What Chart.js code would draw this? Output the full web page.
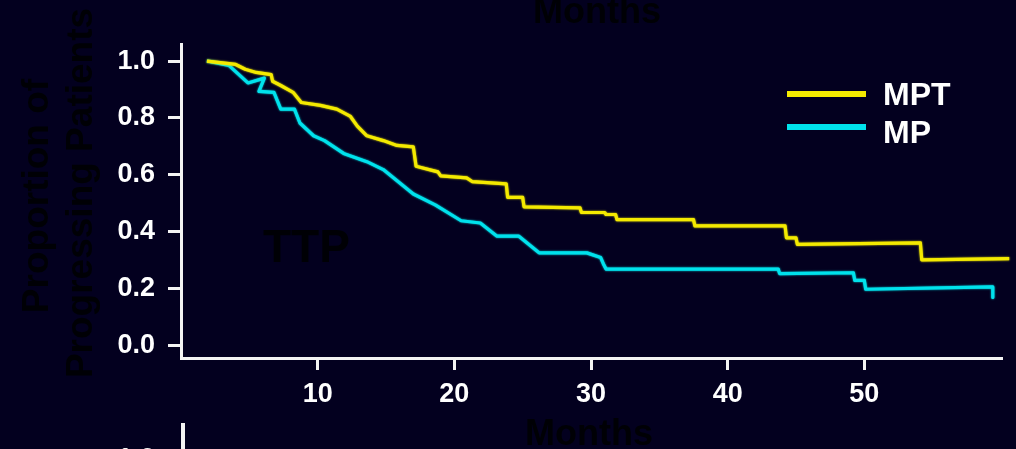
<!DOCTYPE html>
<html>
<head>
<meta charset="utf-8">
<script src="https://cdn.jsdelivr.net/npm/chart.js@4/dist/chart.umd.min.js"></script>
<style>
  html, body { margin: 0; padding: 0; background: #03001f; overflow: hidden; }
  #wrap { width: 1016px; height: 449px; }
</style>
</head>
<body>
<div id="wrap"><canvas id="ttp" width="1016" height="449"></canvas></div>
<script>
// Time to progression, Kaplan-Meier estimates by arm
const seriesNames = ['MPT', 'MP'];

const mptMonths = [1.9, 4.0, 4.7, 5.5, 6.6, 6.7, 7.3, 8.2, 8.8, 10.2, 11.4, 12.4, 12.9, 13.6, 14.8, 15.8,
  17.0, 17.2, 18.8, 19.0, 20.9, 21.3, 23.8, 23.9, 25.0, 25.1, 29.2, 29.3, 31.0, 31.1, 31.8, 31.9,
  37.5, 37.6, 44.2, 44.3, 45.0, 45.1, 54.1, 54.2, 60.6];
const mptValues = [1.00, 0.988, 0.971, 0.960, 0.952, 0.929, 0.914, 0.890, 0.854, 0.844, 0.831, 0.805, 0.771, 0.737, 0.720, 0.703,
  0.698, 0.630, 0.610, 0.596, 0.589, 0.576, 0.568, 0.520, 0.520, 0.487, 0.483, 0.467, 0.467, 0.460, 0.460, 0.442,
  0.442, 0.420, 0.420, 0.378, 0.378, 0.355, 0.360, 0.300, 0.305];

const mpMonths = [1.9, 3.5, 4.9, 6.1, 5.7, 6.8, 7.3, 8.3, 8.7, 9.7, 10.5, 11.9, 13.6, 14.8, 17.0, 18.6,
  20.5, 21.9, 23.1, 24.7, 26.2, 29.7, 30.7, 30.9, 31.1, 43.7, 43.8, 49.2, 49.3, 50.0, 50.1, 59.4, 59.4];
const mpValues = [1.00, 0.985, 0.923, 0.940, 0.893, 0.890, 0.831, 0.831, 0.782, 0.737, 0.720, 0.675, 0.646, 0.618, 0.532, 0.494,
  0.438, 0.430, 0.384, 0.384, 0.325, 0.325, 0.309, 0.287, 0.268, 0.268, 0.252, 0.255, 0.228, 0.228, 0.197, 0.205, 0.168];

const xTickValues = [10, 20, 30, 40, 50];
const yTickValues = [0.0, 0.2, 0.4, 0.6, 0.8, 1.0];

const FONT = "'Liberation Sans', Arial, Helvetica, sans-serif";
const BG = '#03001f';
const INK = '#000005';
const AXIS = '#f4f4f4';
const lineColors = ['#f4ea00', '#00e2ec'];

function toPoints(xs, ys) { return xs.map((x, i) => ({ x: x, y: ys[i] })); }

// Page background, faint panel text, legend and the neighbouring panel edge
const panelDecor = {
  id: 'panelDecor',
  beforeDraw(chart) {
    const ctx = chart.ctx;
    ctx.save();
    ctx.fillStyle = BG;
    ctx.fillRect(0, 0, chart.width, chart.height);
    ctx.restore();
  },
  beforeDatasetsDraw(chart) {
    const ctx = chart.ctx;
    const a = chart.chartArea;
    ctx.save();
    ctx.fillStyle = INK;
    ctx.textBaseline = 'alphabetic';
    // axis title of the panel above, cut at the top edge
    ctx.font = `bold 36px ${FONT}`;
    ctx.textAlign = 'center';
    ctx.fillText('Months', 597, 23);
    // x axis title
    ctx.fillText('Months', (a.left + a.right) / 2 - 2, 445);
    // y axis title, two lines
    ctx.font = `bold 37px ${FONT}`;
    ctx.save();
    ctx.translate(48, 196);
    ctx.rotate(-Math.PI / 2);
    ctx.fillText('Proportion of', 0, 0);
    ctx.restore();
    ctx.save();
    ctx.translate(92, 193);
    ctx.rotate(-Math.PI / 2);
    ctx.fillText('Progressing Patients', 0, 0);
    ctx.restore();
    // endpoint label
    ctx.font = `bold 46px ${FONT}`;
    ctx.textAlign = 'left';
    ctx.fillText('TTP', 263, 262);
    ctx.restore();
  },
  // soft glow on the survival curves
  beforeDatasetDraw(chart, args) {
    const ctx = chart.ctx;
    ctx.save();
    ctx.shadowColor = args.meta.dataset.options.borderColor;
    ctx.shadowBlur = 2;
  },
  afterDatasetDraw(chart) {
    chart.ctx.restore();
  },
  afterDraw(chart) {
    const ctx = chart.ctx;
    const a = chart.chartArea;
    ctx.save();
    // legend
    const rows = [{ line: 94, text: 105 }, { line: 127, text: 143 }];
    chart.data.datasets.forEach((ds, i) => {
      ctx.fillStyle = ds.borderColor;
      ctx.fillRect(787, rows[i].line - 3, 79, 6);
      ctx.fillStyle = '#ffffff';
      ctx.font = `bold 32px ${FONT}`;
      ctx.textAlign = 'left';
      ctx.textBaseline = 'alphabetic';
      ctx.fillText(ds.label, 883, rows[i].text);
    });
    // top of the y axis of the panel below
    ctx.fillStyle = AXIS;
    ctx.fillRect(a.left, 423, 4, chart.height - 423);
    ctx.font = `bold 27px ${FONT}`;
    ctx.textAlign = 'right';
    ctx.fillText('1.0', 155, 467);
    ctx.restore();
  }
};

new Chart(document.getElementById('ttp'), {
  type: 'line',
  data: {
    datasets: [
      { label: seriesNames[0], data: toPoints(mptMonths, mptValues), borderColor: lineColors[0], backgroundColor: lineColors[0] },
      { label: seriesNames[1], data: toPoints(mpMonths, mpValues), borderColor: lineColors[1], backgroundColor: lineColors[1] }
    ]
  },
  options: {
    responsive: false,
    animation: false,
    events: [],
    devicePixelRatio: 1,
    layout: { padding: { top: 44, right: 15, left: 0, bottom: 0 } },
    elements: {
      line: { borderWidth: 3.2, tension: 0, fill: false, borderJoinStyle: 'round', borderCapStyle: 'butt' },
      point: { radius: 0 }
    },
    datasets: { line: { clip: false } },
    plugins: { legend: { display: false }, tooltip: { enabled: false } },
    scales: {
      x: {
        type: 'linear', min: 0, max: 60,
        afterBuildTicks: s => { s.ticks = xTickValues.map(v => ({ value: v })); },
        afterFit: s => { s.height = 91; },
        ticks: { color: '#ffffff', font: { family: FONT, size: 27, weight: 'bold' }, padding: 8, maxRotation: 0, autoSkip: false },
        grid: { drawOnChartArea: false, drawTicks: true, tickLength: 12, color: AXIS, lineWidth: 3 },
        border: { color: AXIS, width: 3 }
      },
      y: {
        type: 'linear', min: -0.045, max: 1.06,
        afterBuildTicks: s => { s.ticks = yTickValues.map(v => ({ value: v })); },
        afterFit: s => { s.width = 181; },
        ticks: { color: '#ffffff', font: { family: FONT, size: 27, weight: 'bold' }, padding: 13, callback: v => v.toFixed(1) },
        grid: { drawOnChartArea: false, drawTicks: true, tickLength: 13, color: AXIS, lineWidth: 3 },
        border: { color: AXIS, width: 3 }
      }
    }
  },
  plugins: [panelDecor]
});
</script>
</body>
</html>
